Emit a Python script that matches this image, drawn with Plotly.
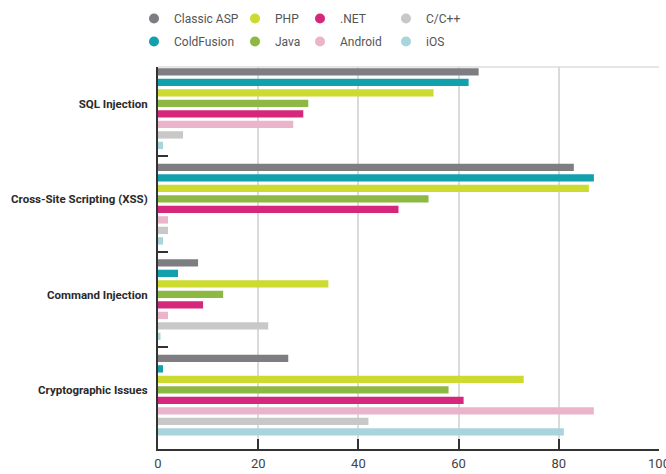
import plotly.graph_objects as go

categories = ["SQL Injection", "Cross-Site Scripting (XSS)", "Command Injection", "Cryptographic Issues"]
series_names = ["Classic ASP", "ColdFusion", "PHP", "Java", ".NET", "Android", "C/C++", "iOS"]
classic_asp = [64, 83, 8, 26]
coldfusion = [62, 87, 4, 1]
php = [55, 86, 34, 73]
java = [30, 54, 13, 58]
dotnet = [29, 48, 9, 61]
android = [27, 2, 2, 87]
c_cpp = [5, 2, 22, 42]
ios = [1, 1, 0.5, 81]
x_ticks = [0, 20, 40, 60, 80, 100]

values = [classic_asp, coldfusion, php, java, dotnet, android, c_cpp, ios]
colors = ["#7e7d81", "#12a0ac", "#cdda2f", "#8db843", "#d5277b", "#eab5cb", "#c8c8c9", "#a8d4db"]

FONT = "Roboto, sans-serif"

fig = go.Figure()
for name, vals, col in zip(series_names, values, colors):
    fig.add_trace(go.Bar(
        y=categories, x=vals, name=name, orientation="h",
        marker=dict(color=col, line=dict(width=0)),
        showlegend=False,
    ))

# legend keys (circle swatches), arranged in 4 columns of 2
legend_cols = [["Classic ASP", "ColdFusion"], ["PHP", "Java"], [".NET", "Android"], ["C/C++", "iOS"]]
legend_ids = ["legend", "legend2", "legend3", "legend4"]
for lid, pair in zip(legend_ids, legend_cols):
    for name in pair:
        col = colors[series_names.index(name)]
        fig.add_trace(go.Scatter(
            x=[None], y=[None], mode="markers", name=name,
            marker=dict(color=col, size=10, symbol="circle"),
            legend=lid, legendgroup=name, showlegend=True, hoverinfo="skip",
        ))

W, H = 666, 474
L, R, T, B = 158, 7, 67, 25
pw = W - L - R
ph = H - T - B

def px_to_paper_x(px):
    return (px - L) / pw

def py_to_paper_y(py):
    return (H - B - py) / ph

legend_text_x = [174, 275, 340, 426]
leg_common = dict(orientation="v", font=dict(family=FONT, size=12, color="#555555"),
                  bgcolor="rgba(0,0,0,0)", borderwidth=0, tracegroupgap=4,
                  xanchor="left", yanchor="top", traceorder="grouped")
layout_legends = {}
for lid, tx in zip(legend_ids, legend_text_x):
    layout_legends[lid] = dict(x=px_to_paper_x(tx - 40), y=py_to_paper_y(4), **leg_common)

fig.update_layout(
    width=W, height=H,
    margin=dict(l=L, r=R, t=T, b=B, pad=0, autoexpand=False),
    paper_bgcolor="white", plot_bgcolor="white",
    barmode="group", bargap=0.12, bargroupgap=0.3,
    font=dict(family=FONT, size=12, color="#444444"),
    xaxis=dict(
        range=[0, 100], tickvals=x_ticks, ticktext=[str(v) for v in x_ticks],
        showgrid=True, gridcolor="#dadada", gridwidth=1.5,
        showline=True, linecolor="#333333", linewidth=1.5,
        ticks="inside", ticklen=10, tickwidth=1.5, tickcolor="#333333",
        tickfont=dict(family=FONT, size=13, color="#444444"),
        ticklabelstandoff=2, ticklabeloverflow="allow",
        zeroline=False, fixedrange=True, automargin=False,
    ),
    yaxis=dict(
        type="category", categoryorder="array", categoryarray=categories,
        range=[3.564, -0.436],
        showgrid=False, showline=True, linecolor="#333333", linewidth=2,
        ticks="inside", tickson="boundaries", ticklen=10, tickwidth=2, tickcolor="#333333",
        tickfont=dict(family=FONT, size=11.5, color="#2a2a2a", weight="bold"),
        ticklabelstandoff=6, ticklabelshift=5,
        zeroline=False, fixedrange=True, automargin=False,
    ),
    shapes=[dict(type="line", xref="paper", yref="paper", x0=0, x1=1, y0=1, y1=1,
                 line=dict(color="#dcdcdc", width=1.5), layer="below")],
    **layout_legends,
)

fig.write_html("out.html")
